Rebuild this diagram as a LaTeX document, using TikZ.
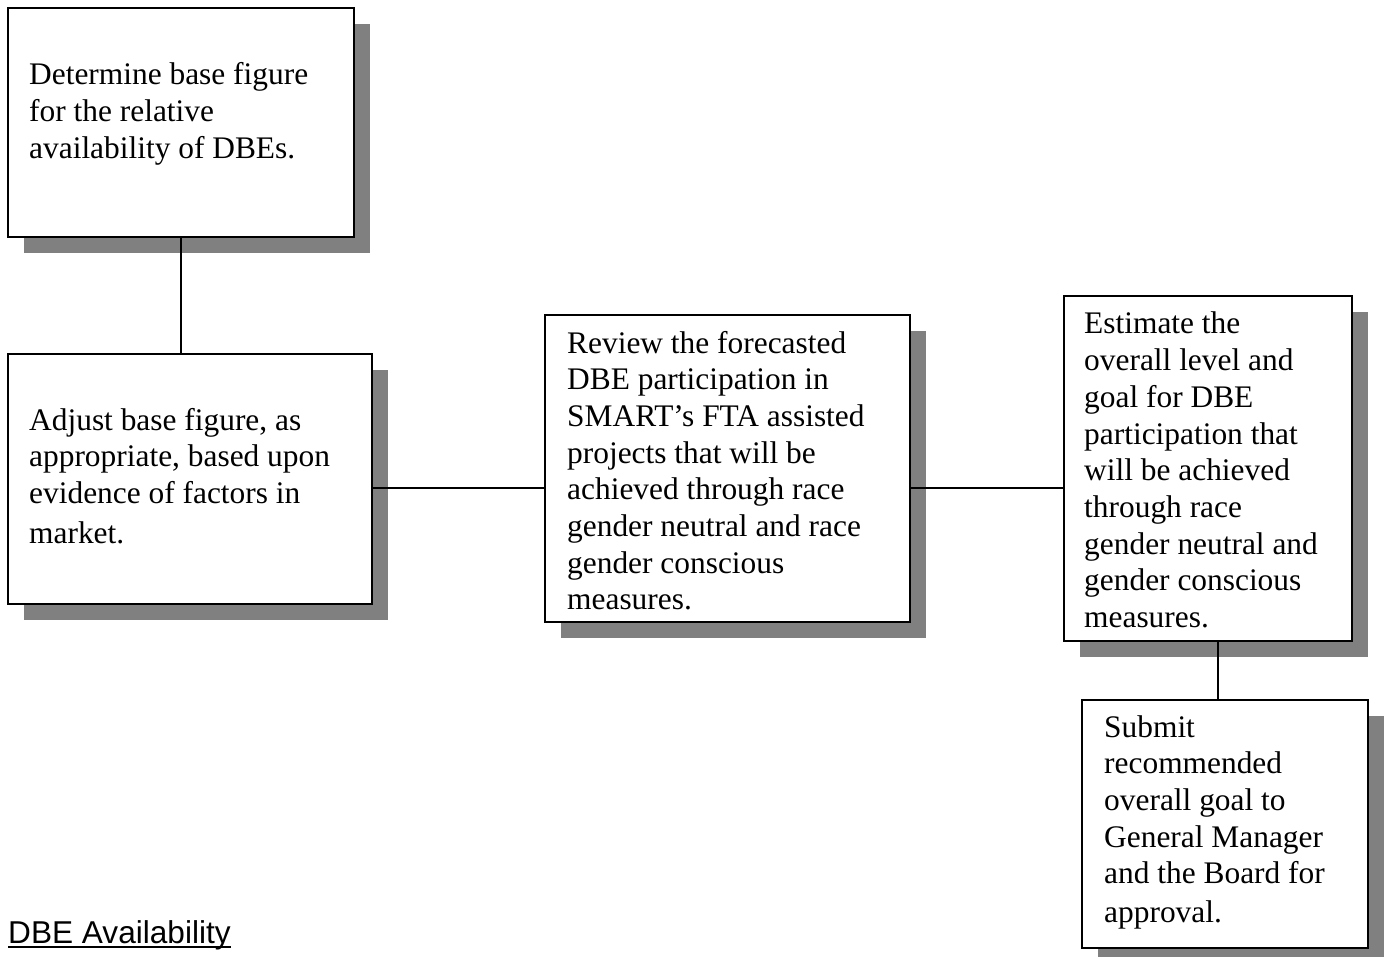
\documentclass[tikz,border=0pt]{standalone}
\usepackage{fontspec}
\setmainfont{Liberation Serif}
\newfontfamily\capfont{Liberation Sans}
\usetikzlibrary{shadows}
\definecolor{shadowgray}{RGB}{128,128,128}
\begin{document}
\begin{tikzpicture}[x=1pt,y=-1pt,
  stepbox/.style={draw=black, line width=2pt, fill=white, inner sep=0pt,
    drop shadow={shadow xshift=16pt, shadow yshift=-16pt, fill=shadowgray, opacity=1}},
  boxtext/.style={anchor=base west, inner sep=0pt, font=\fontsize{31.4}{36.7}\selectfont},
  link/.style={draw=black, line width=2pt}
]
\useasboundingbox (0,0) rectangle (1386,957);
% boxes
\node[stepbox, minimum width=346pt, minimum height=229pt] (a) at (181,122.5) {};
\node[stepbox, minimum width=364pt, minimum height=250pt] (b) at (190,479) {};
\node[stepbox, minimum width=365pt, minimum height=307pt] (c) at (727.5,468.5) {};
\node[stepbox, minimum width=288pt, minimum height=345pt] (d) at (1208,468.5) {};
\node[stepbox, minimum width=286pt, minimum height=248pt] (e) at (1225,824) {};
% texts
\node[boxtext] (ta) at (29,85) {\parbox[t]{330pt}{\raggedright
Determine base figure\\ for the relative\\ availability of DBEs.}};
\node[boxtext] (tb) at (29,430) {\parbox[t]{340pt}{\raggedright
Adjust base figure, as\\ appropriate, based upon\\ evidence of factors in\\[3pt] market.}};
\node[boxtext] (tc) at (567,353) {\parbox[t]{340pt}{\raggedright
Review the forecasted\\ DBE participation in\\ SMART’s FTA assisted\\ projects that will be\\ achieved through race\\ gender neutral and race\\ gender conscious\\ measures.}};
\node[boxtext] (td) at (1084,334) {\parbox[t]{265pt}{\raggedright
Estimate the\\ overall level and\\ goal for DBE\\ participation that\\ will be achieved\\ through race\\ gender neutral and\\ gender conscious\\ measures.}};
\node[boxtext] (te) at (1104,737) {\parbox[t]{260pt}{\raggedright
Submit\\ recommended\\ overall goal to\\ General Manager\\ and the Board for\\[2pt] approval.}};
% connectors
\coordinate (m) at (0,488);
\coordinate (v) at (1218,0);
\draw[link] (a.south) -- (a.south |- b.north);
\draw[link] (b.east |- m) -- (c.west |- m);
\draw[link] (c.east |- m) -- (d.west |- m);
\draw[link] (v |- d.south) -- (v |- e.north);
% caption
\node[anchor=base west, inner sep=0pt, font=\capfont\fontsize{31.6}{36}\selectfont] (cap) at (8,943) {DBE Availability};
\draw[line width=2pt] ([yshift=-4pt]cap.base west) -- ([yshift=-4pt]cap.base east);
\end{tikzpicture}
\end{document}
